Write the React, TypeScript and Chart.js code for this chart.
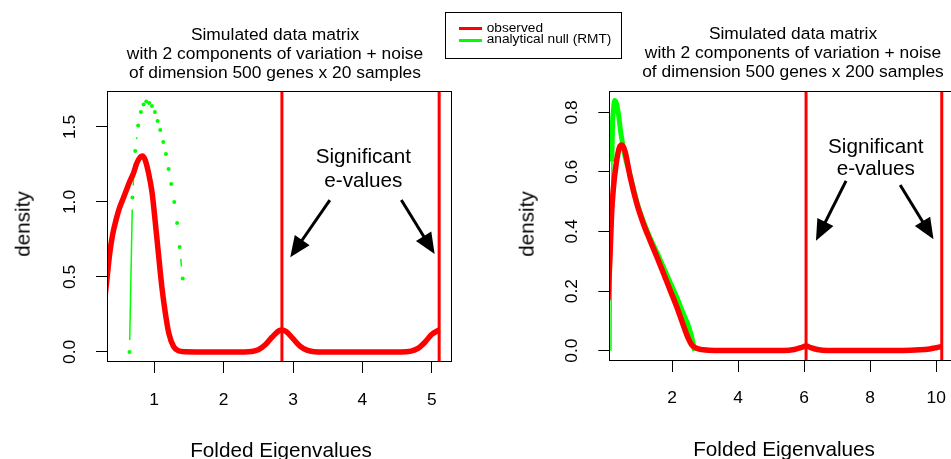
import React, { useEffect, useRef } from "react";
import { Chart, registerables } from "chart.js";

Chart.register(...registerables);

const FONT = "'Liberation Sans', Arial, Helvetica, sans-serif";

// ---------- Left panel: 500 genes x 20 samples ----------
const leftObsX = [0.28, 0.32, 0.36, 0.40, 0.45, 0.50, 0.55, 0.60, 0.65, 0.70, 0.75, 0.80, 0.83, 0.87, 0.92, 0.97, 1.01, 1.06, 1.11, 1.16, 1.21, 1.28, 1.35, 1.45, 1.60, 2.30, 2.40, 2.50, 2.60, 2.70, 2.80, 2.84, 2.90, 3.00, 3.10, 3.20, 3.30, 3.45, 4.55, 4.70, 4.80, 4.90, 5.00, 5.105];
const leftObsY = [0.32, 0.49, 0.66, 0.78, 0.88, 0.96, 1.02, 1.08, 1.14, 1.19, 1.26, 1.30, 1.307, 1.28, 1.19, 1.06, 0.89, 0.66, 0.435, 0.26, 0.125, 0.035, 0.008, 0.001, 0.0, 0.0, 0.003, 0.015, 0.048, 0.10, 0.142, 0.147, 0.137, 0.089, 0.039, 0.012, 0.002, 0.0, 0.0, 0.006, 0.024, 0.065, 0.118, 0.147];
const leftNullX = [0.644, 0.687, 0.726, 0.769, 0.808, 0.846, 0.885, 0.928, 0.967, 1.01, 1.048, 1.087, 1.13, 1.169, 1.207, 1.245, 1.289, 1.33, 1.366, 1.41];
const leftNullY = [0.0, 1.03, 1.34, 1.51, 1.60, 1.65, 1.67, 1.66, 1.64, 1.60, 1.54, 1.48, 1.40, 1.32, 1.22, 1.12, 1.00, 0.86, 0.70, 0.49];
const leftEigen = [2.84, 5.105];
const leftXTicks = [1, 2, 3, 4, 5];
const leftYTicks = [0, 0.5, 1.0, 1.5];
const leftXRange = [0.32, 5.29];
const leftYRange = [-0.067, 1.74];
const leftArrowFrom = [[3.53, 1.013], [4.56, 1.013]];
const leftArrowTo = [[2.96, 0.631], [5.04, 0.653]];
const leftNoteX = 4.013;
const leftNoteY = [1.259, 1.101];

// ---------- Right panel: 500 genes x 200 samples ----------
const rightObsX = [0.06, 0.12, 0.17, 0.22, 0.30, 0.40, 0.48, 0.58, 0.73, 0.93, 1.13, 1.33, 1.54, 1.74, 1.94, 2.14, 2.34, 2.49, 2.60, 2.75, 2.95, 3.30, 5.40, 5.70, 5.90, 6.06, 6.20, 6.40, 6.70, 9.00, 9.50, 9.80, 10.00, 10.17];
const rightObsY = [0.17, 0.315, 0.46, 0.54, 0.62, 0.68, 0.69, 0.668, 0.584, 0.495, 0.427, 0.371, 0.315, 0.26, 0.204, 0.148, 0.086, 0.042, 0.019, 0.008, 0.003, 0.001, 0.001, 0.004, 0.010, 0.016, 0.010, 0.004, 0.001, 0.001, 0.003, 0.006, 0.010, 0.014];
const rightNullX = [0.15, 0.18, 0.19, 0.20, 0.22, 0.26, 0.30, 0.37, 0.45, 0.58, 0.73, 0.93, 1.13, 1.33, 1.54, 1.74, 1.94, 2.14, 2.34, 2.49, 2.60, 2.65, 2.68];
const rightNullY = [0.0, 0.634, 0.716, 0.77, 0.80, 0.84, 0.835, 0.80, 0.73, 0.65, 0.59, 0.50, 0.435, 0.38, 0.33, 0.28, 0.23, 0.18, 0.125, 0.085, 0.045, 0.018, 0.0];
const rightEigen = [6.06, 10.17];
const rightXTicks = [2, 4, 6, 8, 10];
const rightYTicks = [0, 0.2, 0.4, 0.6, 0.8];
const rightXRange = [0.10, 10.55];
const rightYRange = [-0.0346, 0.8715];
const rightArrowFrom = [[7.27, 0.570], [8.91, 0.556]];
const rightArrowTo = [[6.36, 0.369], [9.92, 0.374]];
const rightNoteX = 8.17;
const rightNoteY = [0.663, 0.59];

const noteLines = ["Significant", "e-values"];
const titleLines = (n: number) => [
  "Simulated data matrix",
  "with 2 components of variation + noise",
  `of dimension 500 genes x ${n} samples`,
];

const rPanelPlugin: any = {
  id: "rPanel",
  afterDatasetDraw(chart: any, args: any) {
    const ds: any = chart.data.datasets[args.index];
    if (!ds.gapLine) return;
    const pts = args.meta.data;
    const a = chart.chartArea;
    const ctx = chart.ctx;
    ctx.save();
    ctx.beginPath();
    ctx.rect(a.left, a.top, a.right - a.left, a.bottom - a.top);
    ctx.clip();
    ctx.strokeStyle = ds.borderColor;
    ctx.lineWidth = ds.gapLineWidth;
    const g = ds.gapLine;
    for (let i = 0; i < pts.length - 1; i++) {
      const p0 = pts[i], p1 = pts[i + 1];
      const dx = p1.x - p0.x, dy = p1.y - p0.y;
      const len = Math.hypot(dx, dy);
      if (len <= 2 * g) continue;
      const ux = dx / len, uy = dy / len;
      ctx.beginPath();
      ctx.moveTo(p0.x + ux * g, p0.y + uy * g);
      ctx.lineTo(p1.x - ux * g, p1.y - uy * g);
      ctx.stroke();
    }
    ctx.restore();
  },
  afterDraw(chart: any, _args: any, opts: any) {
    const ctx = chart.ctx;
    const a = chart.chartArea;
    const xs = chart.scales.x, ys = chart.scales.y;
    ctx.save();
    // plot box
    ctx.strokeStyle = "#000";
    ctx.lineWidth = 1;
    ctx.strokeRect(Math.round(a.left) + 0.5, Math.round(a.top) + 0.5, Math.round(a.right - a.left) - 1, Math.round(a.bottom - a.top) - 1);
    // arrows
    ctx.fillStyle = "#000";
    ctx.lineWidth = 3;
    (opts.arrowFrom || []).forEach((f: number[], i: number) => {
      const t = opts.arrowTo[i];
      const x0 = xs.getPixelForValue(f[0]), y0 = ys.getPixelForValue(f[1]);
      const x1 = xs.getPixelForValue(t[0]), y1 = ys.getPixelForValue(t[1]);
      const len = Math.hypot(x1 - x0, y1 - y0);
      const ux = (x1 - x0) / len, uy = (y1 - y0) / len;
      const hl = 21, hw = 9;
      ctx.beginPath();
      ctx.moveTo(x0, y0);
      ctx.lineTo(x1 - ux * hl * 0.8, y1 - uy * hl * 0.8);
      ctx.stroke();
      const bx = x1 - ux * hl, by = y1 - uy * hl;
      ctx.beginPath();
      ctx.moveTo(x1, y1);
      ctx.lineTo(bx - uy * hw, by + ux * hw);
      ctx.lineTo(bx + uy * hw, by - ux * hw);
      ctx.closePath();
      ctx.fill();
    });
    // annotation text
    ctx.font = `20.7px ${FONT}`;
    ctx.textAlign = "center";
    ctx.textBaseline = "alphabetic";
    (opts.noteY || []).forEach((yv: number, i: number) => {
      ctx.fillText(opts.noteLines[i], xs.getPixelForValue(opts.noteX), ys.getPixelForValue(yv));
    });
    ctx.restore();
  },
};

type PanelProps = {
  left: number; width: number; height: number;
  yAxisWidth: number; padRight: number; padTop: number; xAxisHeight: number; xTickPad: number;
  obsX: number[]; obsY: number[]; nullX: number[]; nullY: number[]; eigen: number[];
  xTicks: number[]; yTicks: number[]; xRange: number[]; yRange: number[];
  arrowFrom: number[][]; arrowTo: number[][]; noteX: number; noteY: number[];
  nullStyle: "b" | "dense";
};

function Panel(p: PanelProps) {
  const ref = useRef<HTMLCanvasElement>(null);
  useEffect(() => {
    if (!ref.current) return;
    const nullData = p.nullX.map((x, i) => ({ x, y: p.nullY[i] }));
    const nullDs: any = p.nullStyle === "b"
      ? { label: "null", data: nullData, showLine: false, pointRadius: 2, pointBorderWidth: 0, pointBackgroundColor: "#00ff00", borderColor: "#00ff00", gapLine: 12, gapLineWidth: 1.5, clip: 0 }
      : { label: "null", data: nullData, borderColor: "#00ff00", borderWidth: 5, pointRadius: 0, cubicInterpolationMode: "monotone", clip: 0,
          segment: { borderWidth: (c: any) => (c.p0DataIndex === 0 ? 1.5 : 5) } };
    const datasets: any[] = [
      { label: "observed", data: p.obsX.map((x, i) => ({ x, y: p.obsY[i] })), borderColor: "#ff0000", borderWidth: 5.5, pointRadius: 0, cubicInterpolationMode: "monotone", clip: 0, fill: false },
      nullDs,
      ...p.eigen.map((e) => ({ label: "eigen", data: [{ x: e, y: p.yRange[0] - 1 }, { x: e, y: p.yRange[1] + 1 }], borderColor: "#ff0000", borderWidth: 3, pointRadius: 0, clip: 0 })),
    ];
    const grid = { display: true, drawOnChartArea: false, drawTicks: true, tickLength: 11, tickColor: "#000", tickWidth: 1 };
    const chart = new Chart(ref.current, {
      type: "line",
      data: { datasets },
      options: {
        animation: false,
        responsive: false,
        events: [],
        layout: { padding: { top: p.padTop, right: p.padRight, left: 0, bottom: 0 } },
        plugins: {
          legend: { display: false },
          tooltip: { enabled: false },
          rPanel: { arrowFrom: p.arrowFrom, arrowTo: p.arrowTo, noteX: p.noteX, noteY: p.noteY, noteLines },
        } as any,
        scales: {
          x: {
            type: "linear", min: p.xRange[0], max: p.xRange[1],
            afterBuildTicks: (s: any) => { s.ticks = p.xTicks.map((v) => ({ value: v })); },
            afterFit: (s: any) => { s.height = p.xAxisHeight; },
            grid, border: { display: false },
            ticks: { autoSkip: false, minRotation: 0, maxRotation: 0, padding: p.xTickPad, color: "#000", font: { family: FONT, size: 17.4 }, callback: (v: any) => String(v) },
          },
          y: {
            type: "linear", min: p.yRange[0], max: p.yRange[1],
            afterBuildTicks: (s: any) => { s.ticks = p.yTicks.map((v) => ({ value: v })); },
            afterFit: (s: any) => { s.width = p.yAxisWidth; },
            grid, border: { display: false },
            ticks: { autoSkip: false, minRotation: 90, maxRotation: 90, crossAlign: "center", padding: 14, color: "#000", font: { family: FONT, size: 17.4 }, callback: (v: any) => Number(v).toFixed(1) },
          },
        } as any,
      },
      plugins: [rPanelPlugin],
    } as any);
    return () => chart.destroy();
  }, []);
  return <canvas ref={ref} width={p.width} height={p.height} style={{ position: "absolute", left: p.left, top: 0, width: p.width, height: p.height }} />;
}

function Txt({ x, base, size, text, align = "center" }: { x: number; base: number; size: number; text: string; align?: string }) {
  return (
    <div style={{ position: "absolute", left: x, top: base - 0.8465 * size, fontFamily: FONT, fontSize: size, lineHeight: 1, whiteSpace: "nowrap", color: "#000", transform: align === "center" ? "translateX(-50%)" : undefined }}>
      {text}
    </div>
  );
}

function VTxt({ cx, cy, size, text }: { cx: number; cy: number; size: number; text: string }) {
  return (
    <div style={{ position: "absolute", left: cx, top: cy, fontFamily: FONT, fontSize: size, lineHeight: 1, whiteSpace: "nowrap", color: "#000", transform: "translate(-50%,-50%) rotate(-90deg)" }}>
      {text}
    </div>
  );
}

export default function App() {
  const leftTitle = titleLines(20);
  const rightTitle = titleLines(200);
  const leftBases = [40.7, 59.5, 78.3];
  const rightBases = [39.5, 58.5, 77.5];
  return (
    <div style={{ position: "fixed", left: 0, top: 0, width: 951, height: 459, overflow: "hidden", background: "#fff" }}>
      <Panel left={0} width={470} height={459} yAxisWidth={107} padRight={18} padTop={91} xAxisHeight={97} xTickPad={17}
        obsX={leftObsX} obsY={leftObsY} nullX={leftNullX} nullY={leftNullY} eigen={leftEigen}
        xTicks={leftXTicks} yTicks={leftYTicks} xRange={leftXRange} yRange={leftYRange}
        arrowFrom={leftArrowFrom} arrowTo={leftArrowTo} noteX={leftNoteX} noteY={leftNoteY} nullStyle="b" />
      <Panel left={500} width={470} height={459} yAxisWidth={109.3} padRight={15.7} padTop={91} xAxisHeight={98} xTickPad={16}
        obsX={rightObsX} obsY={rightObsY} nullX={rightNullX} nullY={rightNullY} eigen={rightEigen}
        xTicks={rightXTicks} yTicks={rightYTicks} xRange={rightXRange} yRange={rightYRange}
        arrowFrom={rightArrowFrom} arrowTo={rightArrowTo} noteX={rightNoteX} noteY={rightNoteY} nullStyle="dense" />
      {leftTitle.map((t, i) => <Txt key={"lt" + i} x={275} base={leftBases[i]} size={17.4} text={t} />)}
      {rightTitle.map((t, i) => <Txt key={"rt" + i} x={793} base={rightBases[i]} size={17.4} text={t} />)}
      <Txt x={281} base={458} size={20.7} text="Folded Eigenvalues" />
      <Txt x={784} base={457} size={20.7} text="Folded Eigenvalues" />
      <VTxt cx={23} cy={224} size={20.7} text="density" />
      <VTxt cx={527} cy={224} size={20.7} text="density" />
      {/* legend */}
      <div style={{ position: "absolute", left: 445, top: 11.5, width: 177, height: 47, border: "1.5px solid #000", boxSizing: "border-box", background: "#fff" }} />
      <div style={{ position: "absolute", left: 459, top: 26.5, width: 23, height: 3, background: "#ff0000" }} />
      <div style={{ position: "absolute", left: 459, top: 38.5, width: 23, height: 3, background: "#00ff00" }} />
      <Txt x={486.7} base={32.5} size={13.7} text="observed" align="left" />
      <Txt x={486.7} base={43.8} size={13.7} text="analytical null (RMT)" align="left" />
    </div>
  );
}
